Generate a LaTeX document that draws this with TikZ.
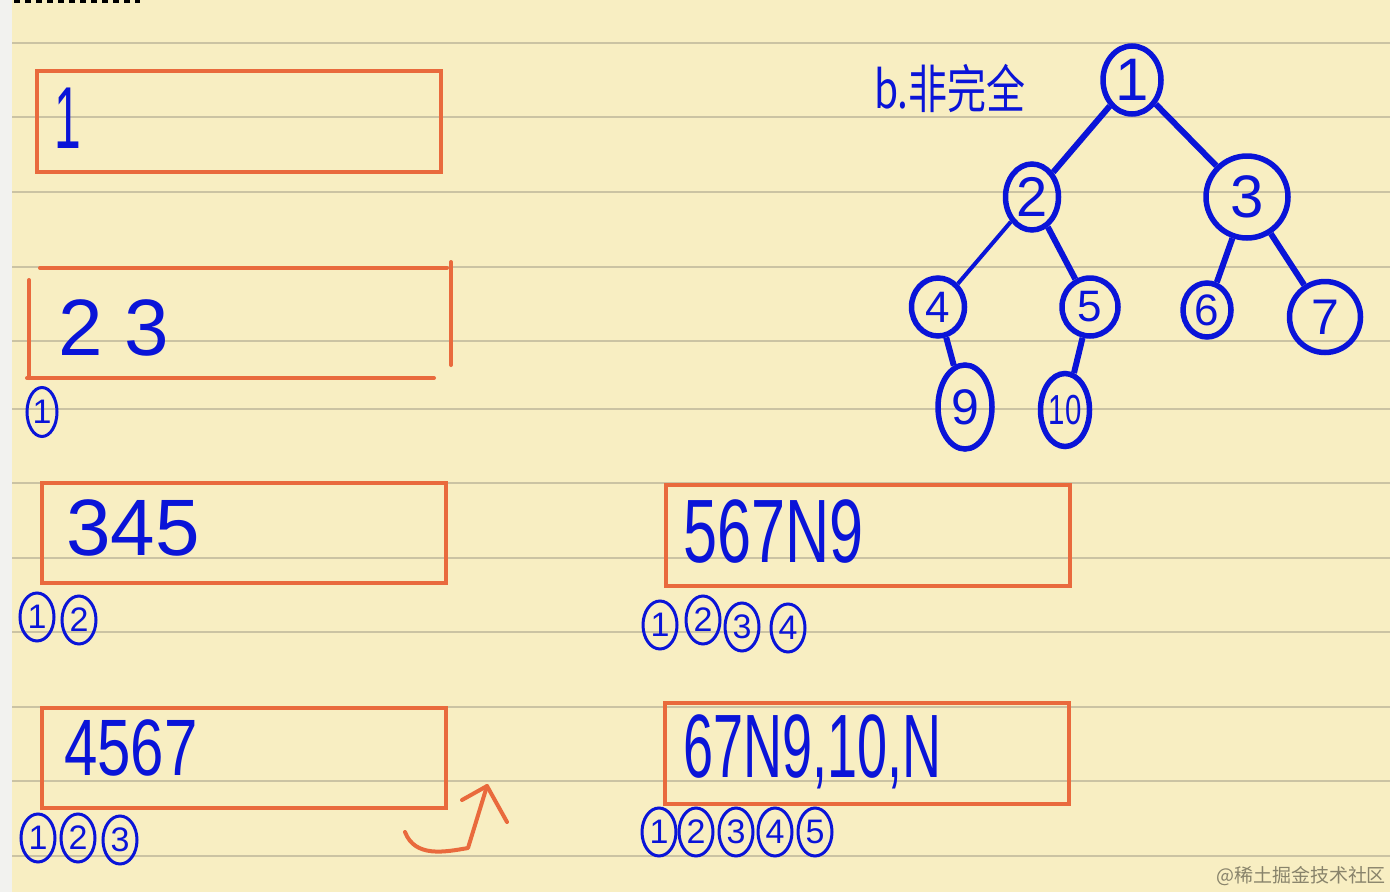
\documentclass[tikz,border=0pt]{standalone}
\usepackage{fontspec}
\setmainfont{Liberation Sans}
\newfontfamily\cjkfont{Noto Sans CJK SC}
\usetikzlibrary{shapes.geometric}
\definecolor{paper}{HTML}{F8EEC2}
\definecolor{rule}{HTML}{CBC3A3}
\definecolor{pen}{HTML}{0A14D8}
\definecolor{marker}{HTML}{E96A3D}
\definecolor{margin}{HTML}{F2F2EF}
\begin{document}
\begin{tikzpicture}[x=1pt,y=-1pt,
        qbox/.style={draw=marker, line width=4pt, line cap=round},
        hand/.style={text=pen, anchor=west, inner sep=0pt, font=\fontsize{80}{80}\selectfont},
        seq/.style={ellipse, draw=pen, line width=3pt, inner sep=0pt, minimum width=34pt, minimum height=48pt,
            text=pen, font=\fontsize{34}{34}\selectfont},
        tnode/.style={ellipse, draw=pen, line width=5.5pt, inner sep=0pt, text=pen},
        tedge/.style={draw=pen, line width=6pt}]
    \useasboundingbox (0,0) rectangle (1390,892);
    \fill [paper] (0,0) rectangle (1390,892);
    \fill [margin] (0,0) rectangle (12,892);
    \foreach \y in {43,117,192,267,341,409,483,558,632,707,781,856}
        \draw [rule, line width=1.5pt] (12,\y) -- (1390,\y);
    \draw [black, line width=3pt, dash pattern=on 6pt off 5pt] (14,1) -- (140,1);
    % queues on the left
    \draw [qbox] (37,71) rectangle (441,172);
    \node [hand, anchor=center] (q1) at (68,118) {\scalebox{0.6}[1.1]{1}};
    \draw [qbox] (40,268) -- (447,268);
    \draw [qbox] (29,280) -- (29,378);
    \draw [qbox] (27,378) -- (434,378);
    \draw [qbox] (451,262) -- (451,365);
    \node [hand] (q2) at (58,328) {2 3};
    \node [seq, minimum width=30pt, minimum height=49pt] (a1) at (42,412) {1};
    \draw [qbox] (42,483) rectangle (446,583);
    \node [hand] (q3) at (66,528) {345};
    \foreach \x/\y [count=\i] in {37/617, 79/620}
        \node [seq] (b\i) at (\x,\y) {\i};
    \draw [qbox] (42,708) rectangle (446,808);
    \node [hand] (q4) at (64,748) {\scalebox{0.75}[1]{4567}};
    \foreach \x/\y [count=\i] in {38/838, 78/838, 120/840}
        \node [seq] (c\i) at (\x,\y) {\i};
    \coordinate (tail) at (405,832);
    \coordinate (tip) at (487,786);
    \draw [marker, line width=4pt, line cap=round, line join=round]
        (tail) .. controls (415,858) and (445,852) .. (468,848) -- (tip);
    \draw [marker, line width=4pt, line cap=round, line join=round] (462,800) -- (tip) -- (507,822);
    % queues on the right
    \draw [qbox] (666,485) rectangle (1070,586);
    \node [hand, font=\fontsize{90}{90}\selectfont] (q5) at (683,532) {\scalebox{0.68}[1]{567N9}};
    \foreach \x/\y [count=\i] in {660/625, 703/620, 742/627, 788/628}
        \node [seq] (d\i) at (\x,\y) {\i};
    \draw [qbox] (665,703) rectangle (1069,804);
    \node [hand, font=\fontsize{90}{90}\selectfont] (q6) at (683,752) {\scalebox{0.6}[1]{67N9,10,N}};
    \foreach \x/\y [count=\i] in {659/832, 696/832, 736/832, 775/832, 815/832}
        \node [seq] (e\i) at (\x,\y) {\i};
    % the tree
    \node [text=pen, font=\cjkfont\fontsize{52}{52}\selectfont] (title) at (950,88) {\scalebox{0.75}[1]{b.非完全}};
    \node [tnode, minimum width=58pt, minimum height=68pt, font=\fontsize{60}{60}\selectfont] (n1) at (1132,80) {1};
    \node [tnode, minimum width=53pt, minimum height=66pt, font=\fontsize{56}{56}\selectfont] (n2) at (1032,197) {2};
    \node [tnode, minimum width=82pt, minimum height=82pt, font=\fontsize{60}{60}\selectfont] (n3) at (1247,197) {3};
    \node [tnode, minimum width=53pt, minimum height=58pt, font=\fontsize{44}{44}\selectfont] (n4) at (938,307) {4};
    \node [tnode, minimum width=56pt, minimum height=58pt, font=\fontsize{44}{44}\selectfont] (n5) at (1090,307) {5};
    \node [tnode, minimum width=48pt, minimum height=54pt, font=\fontsize{44}{44}\selectfont] (n6) at (1207,310) {6};
    \node [tnode, minimum width=71pt, minimum height=71pt, font=\fontsize{50}{50}\selectfont] (n7) at (1325,317) {7};
    \node [tnode, minimum width=54pt, minimum height=84pt, font=\fontsize{50}{50}\selectfont] (n9) at (965,407) {9};
    \node [tnode, minimum width=49pt, minimum height=73pt, font=\fontsize{42}{42}\selectfont] (n10) at (1065,410) {\scalebox{0.7}[1]{10}};
    \draw [tedge] (n1) -- (n2);
    \draw [tedge] (n1) -- (n3);
    \draw [tedge, line width=4pt] (n2) -- (n4);
    \draw [tedge] (n2) -- (n5);
    \draw [tedge] (n3) -- (n6);
    \draw [tedge] (n3) -- (n7);
    \draw [tedge] (n4) -- (n9);
    \draw [tedge] (n5) -- (n10);
    \node [text=black!45!paper, font=\cjkfont\fontsize{19}{19}\selectfont] (mark) at (1301,876) {@稀土掘金技术社区};
\end{tikzpicture}
\end{document}
